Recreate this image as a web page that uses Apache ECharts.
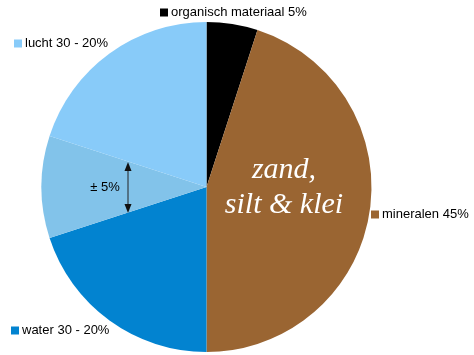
<!DOCTYPE html>
<html>
<head>
<meta charset="utf-8">
<script src="https://cdn.jsdelivr.net/npm/echarts@6/dist/echarts.min.js"></script>
<style>
  html, body { margin: 0; padding: 0; background: #fff; }
  #main { width: 474px; height: 355px; }
</style>
</head>
<body>
<div id="main"></div>
<script>
// onderdelen van de bodem, met de klok mee vanaf boven
var names = ['organisch materiaal 5%', 'mineralen 45%', 'water 30 - 20%', '± 5%', 'lucht 30 - 20%'];
var values = [5, 45, 20, 10, 20];
var colors = ['#000000', '#9a6532', '#0283d0', '#82c3ea', '#88cbf9'];

var chart = echarts.init(document.getElementById('main'));

var pieData = [];
for (var i = 0; i < names.length; i++) {
    pieData.push({ name: names[i], value: values[i], itemStyle: { color: colors[i] } });
}

// een losse legenda per naam, zodat elk label op zijn eigen plek staat
function legendAt(name, left, top) {
    return {
        data: [name],
        left: left,
        top: top,
        padding: 0,
        icon: 'rect',
        itemWidth: 8,
        itemHeight: 8,
        itemGap: 4,
        selectedMode: false,
        textStyle: { fontFamily: 'Liberation Sans', fontSize: 13, color: '#000', padding: [0, 0, 0, -2] }
    };
}

chart.setOption({
    backgroundColor: '#fff',
    animation: false,
    legend: [
        legendAt(names[0], 160, 6),
        legendAt(names[4], 14, 37),
        legendAt(names[1], 371, 208),
        legendAt(names[2], 11, 324)
    ],
    series: [{
        type: 'pie',
        center: [206.5, 187],
        radius: 165,
        startAngle: 90,
        clockwise: true,
        label: { show: false },
        labelLine: { show: false },
        emphasis: { disabled: true },
        data: pieData
    }],
    graphic: [
        {
            type: 'text',
            z: 100,
            x: 284,
            y: 188,
            style: {
                text: 'zand,\nsilt & klei',
                align: 'center',
                verticalAlign: 'middle',
                fill: '#fff',
                font: 'italic 30px "Liberation Serif"',
                lineHeight: 35
            }
        },
        {
            type: 'text',
            z: 100,
            x: 105,
            y: 187,
            style: {
                text: '± 5%',
                align: 'center',
                verticalAlign: 'middle',
                fill: '#000',
                font: '13px "Liberation Sans"'
            }
        },
        {
            type: 'line',
            z: 100,
            shape: { x1: 128, y1: 166, x2: 128, y2: 209 },
            style: { stroke: '#222', lineWidth: 1 }
        },
        {
            type: 'polygon',
            z: 100,
            shape: { points: [[128, 162], [124.5, 171], [131.5, 171]] },
            style: { fill: '#111' }
        },
        {
            type: 'polygon',
            z: 100,
            shape: { points: [[128, 213], [124.5, 204], [131.5, 204]] },
            style: { fill: '#111' }
        }
    ]
});
</script>
</body>
</html>
